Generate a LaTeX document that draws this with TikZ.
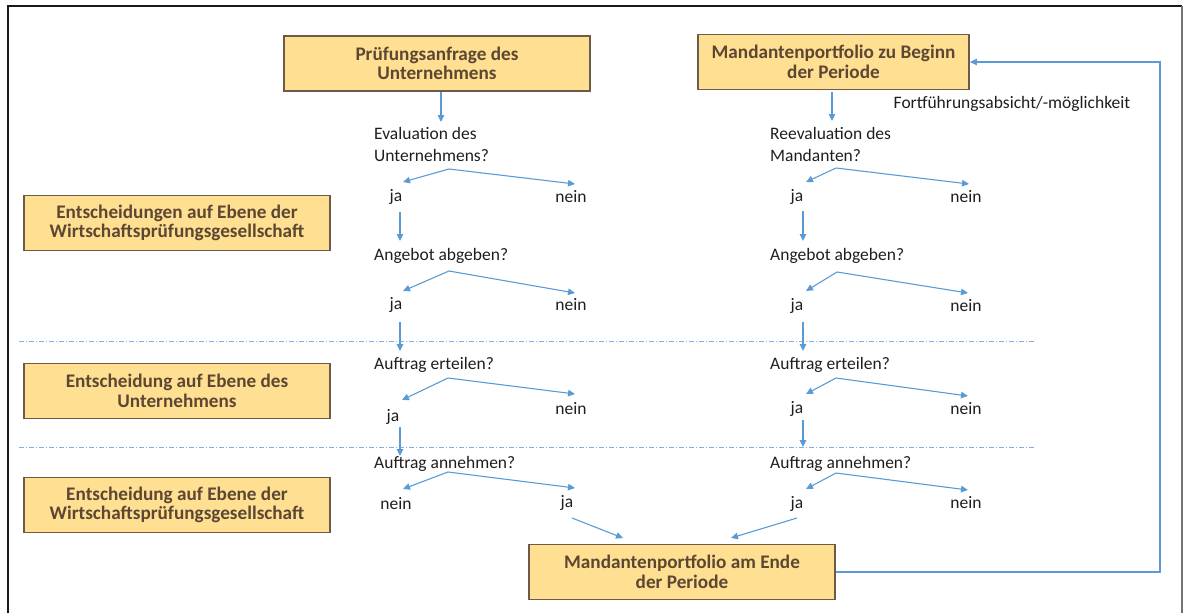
\documentclass[tikz,border=0pt]{standalone}
\usepackage{fontspec}
\setmainfont{Carlito}
\usetikzlibrary{arrows.meta}
\definecolor{boxfill}{HTML}{FFDF91}
\definecolor{boxline}{HTML}{6E5A48}
\definecolor{boxtext}{HTML}{5C4733}
\definecolor{flow}{HTML}{5B9BD5}
\definecolor{sepblue}{HTML}{7FB0E0}
\definecolor{labeltext}{HTML}{1E1E1E}
\begin{document}
\begin{tikzpicture}[x=1pt,y=-1pt,
  box/.style={draw=boxline, line width=1.8pt, fill=boxfill, text=boxtext,
    font=\fontsize{19.2}{19.5}\selectfont\bfseries, align=center,
    minimum height=55pt, inner sep=0pt},
  lbl/.style={font=\fontsize{17.5}{22}\selectfont, text=labeltext, inner sep=0pt, align=left},
  arr/.style={draw=flow, line width=1.1pt, -{Triangle[length=7pt,width=6.5pt]}},
  sepline/.style={draw=sepblue, line width=1pt, dash pattern=on 5pt off 2pt on 1pt off 2pt}]
\useasboundingbox (0,0) rectangle (1183,613);
% outer frame
\draw[line width=2pt, black!90] (8,613) -- (8,6) -- (1182,6);
\draw[line width=1.5pt, black!55] (1182,6) -- (1182,613);

% boxes
\node[box, minimum width=306pt] (pa)  at (437,63.5) {Prüfungsanfrage des\\Unternehmens};
\node[box, minimum width=271pt] (mb)  at (833.5,62) {Mandantenportfolio zu Beginn\\der Periode};
\node[box, minimum width=306pt] (ew1) at (177,223) {Entscheidungen auf Ebene der\\Wirtschaftsprüfungsgesellschaft};
\node[box, minimum width=306pt] (eu)  at (177,391) {Entscheidung auf Ebene des\\Unternehmens};
\node[box, minimum width=306pt] (ew2) at (177,505) {Entscheidung auf Ebene der\\Wirtschaftsprüfungsgesellschaft};
\node[box, minimum width=306pt] (me)  at (682,572) {Mandantenportfolio am Ende\\der Periode};

% level separators
\draw[sepline] (19,341) -- (1035,341);
\draw[sepline] (19,447) -- (1035,447);

% left column: questions and answers
\node[lbl, anchor=west] (q1) at (374,144) {Evaluation des\\Unternehmens?};
\node[lbl, anchor=west] (q2) at (374,256) {Angebot abgeben?};
\node[lbl, anchor=west] (q3) at (374,365) {Auftrag erteilen?};
\node[lbl, anchor=west] (q4) at (374,464) {Auftrag annehmen?};
\node[lbl] (j1) at (396,197) {ja};
\node[lbl] (n1) at (571,197) {nein};
\node[lbl] (j2) at (396,305) {ja};
\node[lbl] (n2) at (571,305) {nein};
\node[lbl] (j3) at (393,417) {ja};
\node[lbl] (n3) at (571,409) {nein};
\node[lbl] (n4) at (396,504) {nein};
\node[lbl] (j4) at (567,503) {ja};

% right column: questions and answers
\node[lbl, anchor=west] (r1) at (770,144) {Reevaluation des\\Mandanten?};
\node[lbl, anchor=west] (r2) at (770,256) {Angebot abgeben?};
\node[lbl, anchor=west] (r3) at (770,365) {Auftrag erteilen?};
\node[lbl, anchor=west] (r4) at (770,464) {Auftrag annehmen?};
\node[lbl] (rj1) at (797,197) {ja};
\node[lbl] (rn1) at (966,197) {nein};
\node[lbl] (rj2) at (797,306) {ja};
\node[lbl] (rn2) at (966,306) {nein};
\node[lbl] (rj3) at (797,409) {ja};
\node[lbl] (rn3) at (966,409) {nein};
\node[lbl] (rj4) at (797,504) {ja};
\node[lbl] (rn4) at (966,503) {nein};

\node[lbl] (fl) at (1012,104) {Fortführungsabsicht/-möglichkeit};

% branch points and arrow ends, left column
\coordinate (pa-out) at (441,92);   \coordinate (q1-in) at (441,122);
\coordinate (b1) at (449,169); \coordinate (b1j) at (403,182); \coordinate (b1n) at (575,184);
\coordinate (j1-out) at (400,212);  \coordinate (q2-in) at (400,241);
\coordinate (b2) at (449,271); \coordinate (b2j) at (403,291); \coordinate (b2n) at (575,293);
\coordinate (j2-out) at (400,322);  \coordinate (q3-in) at (400,351);
\coordinate (b3) at (448,378); \coordinate (b3j) at (402,400); \coordinate (b3n) at (575,394);
\coordinate (j3-out) at (400,427);  \coordinate (q4-in) at (400,456);
\coordinate (b4) at (448,472); \coordinate (b4n) at (403,489); \coordinate (b4j) at (575,488);
\coordinate (j4-out) at (572,518);  \coordinate (me-inl) at (623,538);

% branch points and arrow ends, right column
\coordinate (mb-out) at (832,92);   \coordinate (r1-in) at (832,121);
\coordinate (c1) at (836,168); \coordinate (c1j) at (806,182); \coordinate (c1n) at (969,184);
\coordinate (rj1-out) at (803,211); \coordinate (r2-in) at (803,241);
\coordinate (c2) at (837,272); \coordinate (c2j) at (806,291); \coordinate (c2n) at (968,293);
\coordinate (rj2-out) at (803,322); \coordinate (r3-in) at (803,351);
\coordinate (c3) at (836,378); \coordinate (c3j) at (806,394); \coordinate (c3n) at (968,396);
\coordinate (rj3-out) at (803,420); \coordinate (r4-in) at (803,447);
\coordinate (c4) at (836,473); \coordinate (c4j) at (806,489); \coordinate (c4n) at (968,490);
\coordinate (rj4-out) at (797,518); \coordinate (me-inr) at (731,538);

% left column flow
\draw[arr] (pa-out) -- (q1-in);
\draw[arr] (b1) -- (b1j); \draw[arr] (b1) -- (b1n);
\draw[arr] (j1-out) -- (q2-in);
\draw[arr] (b2) -- (b2j); \draw[arr] (b2) -- (b2n);
\draw[arr] (j2-out) -- (q3-in);
\draw[arr] (b3) -- (b3j); \draw[arr] (b3) -- (b3n);
\draw[arr] (j3-out) -- (q4-in);
\draw[arr] (b4) -- (b4n); \draw[arr] (b4) -- (b4j);
\draw[arr] (j4-out) -- (me-inl);

% right column flow
\draw[arr] (mb-out) -- (r1-in);
\draw[arr] (c1) -- (c1j); \draw[arr] (c1) -- (c1n);
\draw[arr] (rj1-out) -- (r2-in);
\draw[arr] (c2) -- (c2j); \draw[arr] (c2) -- (c2n);
\draw[arr] (rj2-out) -- (r3-in);
\draw[arr] (c3) -- (c3j); \draw[arr] (c3) -- (c3n);
\draw[arr] (rj3-out) -- (r4-in);
\draw[arr] (c4) -- (c4j); \draw[arr] (c4) -- (c4n);
\draw[arr] (rj4-out) -- (me-inr);

% feedback loop to the next period
\draw[arr] (me.east) -- (1160,572) -- (1160,62) -- (mb.east);
\end{tikzpicture}
\end{document}
